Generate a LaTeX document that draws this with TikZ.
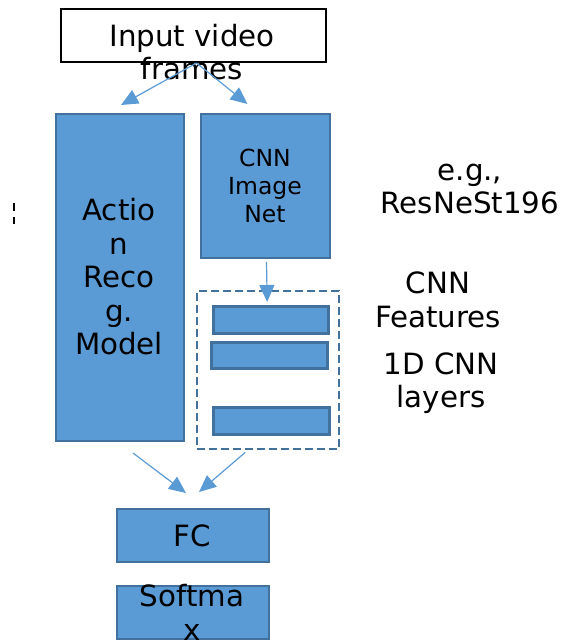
\documentclass[tikz,border=0pt]{standalone}
\usepackage{fontspec}
\setmainfont{DejaVu Sans}
\usetikzlibrary{arrows.meta}
\definecolor{boxfill}{HTML}{5B9BD5}
\definecolor{boxline}{HTML}{41719C}
\tikzset{
  bluebox/.style={draw=boxline, fill=boxfill, line width=2pt, inner sep=0pt, anchor=north west},
  layerbar/.style={bluebox, line width=2.6pt},
  inbox/.style={draw=black, fill=white, line width=2pt, inner sep=0pt, anchor=north west},
  bigtxt/.style={align=center, inner sep=0pt, font=\fontsize{29.3}{33.5}\selectfont},
  smalltxt/.style={align=center, inner sep=0pt, font=\fontsize{23.5}{28}\selectfont},
  arr/.style={draw=boxfill, line width=1.2pt, -{Triangle[length=17pt,width=15pt]}},
  groupbox/.style={draw=boxline, line width=2.4pt, dash pattern=on 8pt off 4pt, inner sep=0pt, anchor=north west}
}
\begin{document}
\begin{tikzpicture}[x=1pt, y=-1pt]
\useasboundingbox (0,0) rectangle (563,641);

% input frames box
\node[inbox, minimum width=265pt, minimum height=53pt] (input) at (60,8) {};
\node[bigtxt] (inputtxt) at (192,52) {Input video\\frames};

% two branches
\node[bluebox, minimum width=128pt, minimum height=327pt] (action) at (55,113) {};
\node[bigtxt] (actiontxt) at (119,277) {Actio\\n\\Reco\\g.\\Model};
\node[bluebox, minimum width=129pt, minimum height=144pt] (cnn) at (200,113) {};
\node[smalltxt] (cnntxt) at (265,186) {CNN\\Image\\Net};

% 1D CNN layers group
\node[groupbox, minimum width=142pt, minimum height=158pt] (group) at (196,290) {};
\node[layerbar, minimum width=115pt, minimum height=27pt] (bar1) at (212,305) {};
\node[layerbar, minimum width=116pt, minimum height=26pt] (bar2) at (210,341) {};
\node[layerbar, minimum width=116pt, minimum height=27pt] (bar3) at (212,406) {};

% head
\node[bluebox, minimum width=152pt, minimum height=53pt] (fc) at (116,508) {};
\node[bigtxt] (fctxt) at (192,536) {FC};
\node[bluebox, minimum width=152pt, minimum height=53pt] (soft) at (116,585) {};
\node[bigtxt] (softtxt) at (192,612.5) {Softma\\x};

% side notes
\node[bigtxt] (eg) at (470,189) {e.g.,\\ResNeSt196};
\node[bigtxt] (feat) at (438,300) {CNN\\Features};
\node[bigtxt] (layers) at (441,383) {1D CNN\\layers};

% small dashed mark at the left edge
\coordinate (marktop) at (14,203);
\coordinate (markbot) at (14,224);
\draw[black, line width=1.5pt, dash pattern=on 8pt off 6pt] (marktop) -- (markbot);

% connectors
\draw[arr] ([xshift=3pt]input.south) -- ([xshift=1pt,yshift=8pt]action.north);
\draw[arr] ([xshift=3pt]input.south) -- ([xshift=-18pt,yshift=9pt]cnn.north);
\draw[arr] ([xshift=1pt,yshift=-3pt]cnn.south) -- ([xshift=-1pt,yshift=-12pt]group.north);
\draw[arr] ([xshift=13pt,yshift=-11pt]action.south) -- ([xshift=-7pt,yshift=15pt]fc.north);
\draw[arr] ([xshift=-23pt,yshift=-2pt]group.south) -- ([xshift=6pt,yshift=16pt]fc.north);
\end{tikzpicture}
\end{document}
